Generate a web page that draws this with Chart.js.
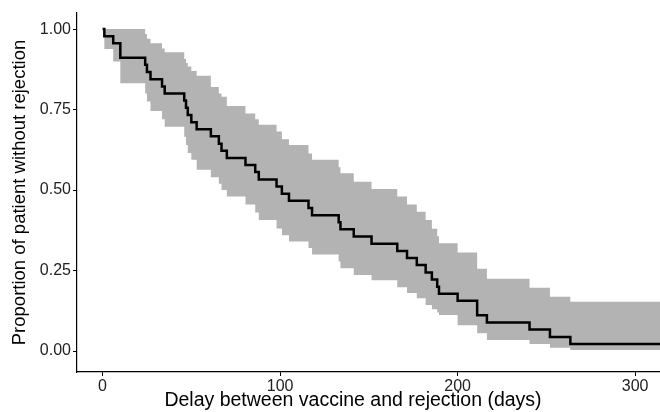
<!DOCTYPE html>
<html>
<head>
<meta charset="utf-8">
<script src="https://cdn.jsdelivr.net/npm/chart.js@4"></script>
<style>
  body { margin: 0; background: #fff; }
  #kmChart { display: block; }
</style>
</head>
<body>
<canvas id="kmChart" width="660" height="412"></canvas>
<script>
// event times (days) and Kaplan-Meier estimate
const days = [0, 1, 6, 10, 24, 25, 27, 33.5, 35, 46, 47, 48, 50, 53, 61, 65.5, 67, 70, 80.5, 86, 88,
  98, 101, 105, 116, 118, 133, 134, 141.5, 151.5, 166, 171.5, 177, 182, 185.5, 188.5, 189.5,
  200, 211, 216.5, 240.5, 252, 263.5];
const survival = [1, 0.978, 0.956, 0.911, 0.889, 0.867, 0.844, 0.822, 0.8, 0.778, 0.756, 0.733, 0.711,
  0.689, 0.667, 0.644, 0.622, 0.6, 0.578, 0.556, 0.533, 0.511, 0.489, 0.467, 0.444, 0.422, 0.4,
  0.378, 0.356, 0.333, 0.311, 0.289, 0.267, 0.244, 0.222, 0.2, 0.178, 0.156, 0.111, 0.089, 0.067,
  0.044, 0.022];
const upperCI = [1, 1, 1, 1, 0.985, 0.97, 0.956, 0.94, 0.928, 0.907, 0.895, 0.884, 0.87, 0.855, 0.82,
  0.8, 0.79, 0.761, 0.738, 0.72, 0.703, 0.682, 0.658, 0.64, 0.614, 0.594, 0.571, 0.552, 0.526,
  0.503, 0.48, 0.455, 0.433, 0.407, 0.38, 0.357, 0.335, 0.306, 0.256, 0.225, 0.197, 0.169, 0.153];
const lowerCI = [1, 0.938, 0.899, 0.832, 0.8, 0.775, 0.746, 0.72, 0.697, 0.666, 0.64, 0.615, 0.594,
  0.563, 0.54, 0.52, 0.5, 0.48, 0.455, 0.43, 0.407, 0.381, 0.36, 0.34, 0.32, 0.3, 0.278, 0.257,
  0.236, 0.22, 0.198, 0.18, 0.164, 0.143, 0.13, 0.12, 0.112, 0.08, 0.055, 0.034, 0.022, 0.01, 0.003];
const lastFollowUp = 320;
const xTicks = [0, 100, 200, 300];
const yTicks = [0, 0.25, 0.5, 0.75, 1];

function toPoints(values) {
  const pts = days.map((d, i) => ({ x: d, y: values[i] }));
  pts.push({ x: lastFollowUp, y: values[values.length - 1] });
  return pts;
}

const fontFamily = "Liberation Sans, Arial, sans-serif";

// x title drawn by hand: in the source it sits a bit left of the panel centre
const xTitlePlugin = {
  id: "xTitle",
  afterDraw(chart) {
    const c = chart.ctx;
    c.save();
    c.font = "19.5px " + fontFamily;
    c.fillStyle = "#000000";
    c.textAlign = "center";
    c.textBaseline = "middle";
    c.fillText("Delay between vaccine and rejection (days)", 353, 401);
    c.restore();
  },
};

const ctx = document.getElementById("kmChart").getContext("2d");
new Chart(ctx, {
  type: "line",
  data: {
    datasets: [
      {
        label: "survival",
        data: toPoints(survival),
        stepped: "before",
        borderColor: "#000000",
        borderWidth: 2.5,
        pointRadius: 0,
        fill: false,
        order: 0,
      },
      {
        label: "upper",
        data: toPoints(upperCI),
        stepped: "before",
        borderWidth: 0,
        borderColor: "rgba(0,0,0,0)",
        backgroundColor: "#b3b3b3",
        pointRadius: 0,
        fill: "+1",
        order: 1,
      },
      {
        label: "lower",
        data: toPoints(lowerCI),
        stepped: "before",
        borderWidth: 0,
        borderColor: "rgba(0,0,0,0)",
        pointRadius: 0,
        fill: false,
        order: 2,
      },
    ],
  },
  plugins: [xTitlePlugin],
  options: {
    responsive: false,
    animation: false,
    layout: { padding: { top: 13, right: 0, left: 0, bottom: 0 } },
    plugins: { legend: { display: false }, tooltip: { enabled: false } },
    scales: {
      x: {
        type: "linear",
        min: -14.4,
        max: 314,
        afterBuildTicks: (scale) => { scale.ticks = xTicks.map((v) => ({ value: v })); },
        afterFit: (scale) => { scale.height = 40; },
        grid: { display: true, drawOnChartArea: false, tickLength: 4, color: "#000000", tickWidth: 1 },
        border: { display: true, color: "#000000", width: 1.2 },
        ticks: { color: "#222222", padding: 1, maxRotation: 0, font: { family: fontFamily, size: 16 } },
        title: { display: false },
      },
      y: {
        type: "linear",
        min: -0.065,
        max: 1.05,
        afterBuildTicks: (scale) => { scale.ticks = yTicks.map((v) => ({ value: v })); },
        afterFit: (scale) => { scale.width = 77; },
        grid: { display: true, drawOnChartArea: false, tickLength: 4, color: "#000000", tickWidth: 1 },
        border: { display: true, color: "#000000", width: 1.2 },
        ticks: {
          color: "#222222",
          padding: 2,
          font: { family: fontFamily, size: 16 },
          callback: (v) => Number(v).toFixed(2),
        },
        title: {
          display: true,
          text: "Proportion of patient without rejection",
          color: "#000000",
          font: { family: fontFamily, size: 18.5 },
          padding: { top: 9, bottom: 0 },
        },
      },
    },
  },
});
</script>
</body>
</html>
